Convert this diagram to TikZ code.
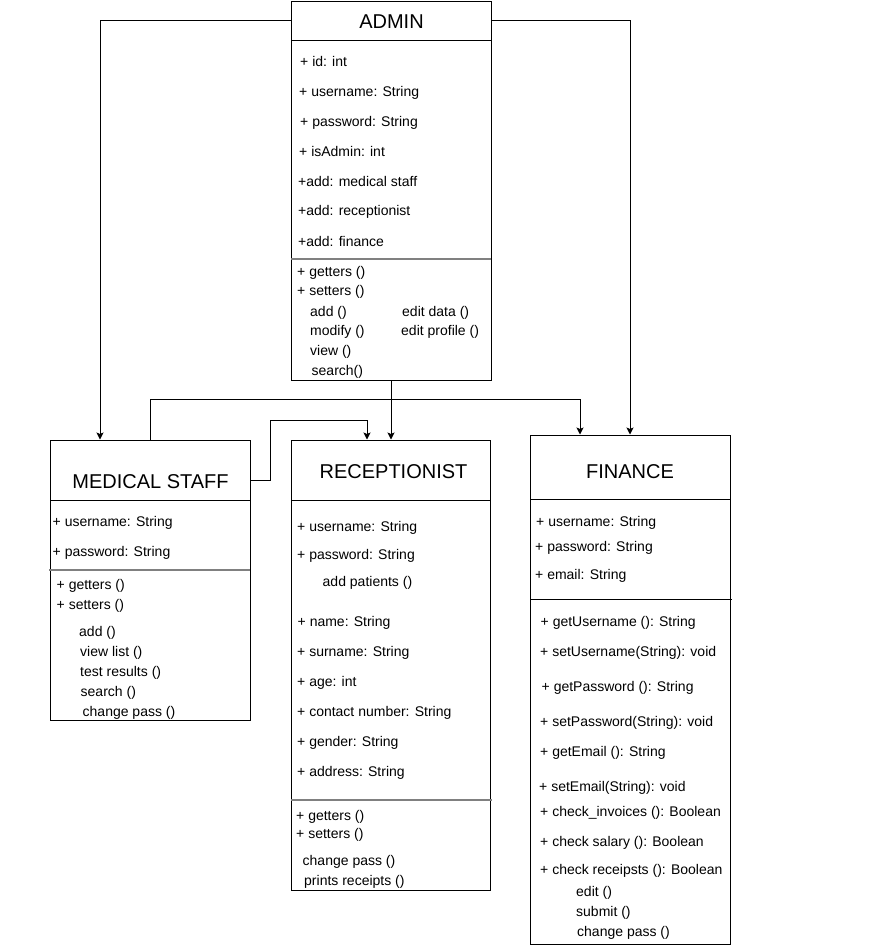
\documentclass[tikz,border=0pt]{standalone}
\usepackage{fontspec}
\setmainfont{Liberation Sans}
\usetikzlibrary{arrows.meta}
\pgfdeclarelayer{bg}
\pgfsetlayers{bg,main}

\begin{document}
\begin{tikzpicture}[x=1pt, y=-1pt,
        box/.style={draw, line width=1pt, minimum width=200pt, inner sep=0pt},
        txt/.style={anchor=base west, inner sep=0pt, font=\fontsize{14}{16}\selectfont},
        ttl/.style={anchor=base, inner sep=0pt, font=\fontsize{20}{24}\selectfont},
        sep/.style={draw=black!50, line width=2pt},
        conn/.style={line width=1pt, -{Stealth[length=7pt,width=7pt,inset=1.5pt]}}]
        \useasboundingbox (0,0) rectangle (876,946);
        % class boxes
        \node (admin) [box, minimum height=39pt] at (391,20.5) {};
        \node (adminB) [box, minimum height=340pt] at (391,210) {};
        \node (med) [box, minimum height=60pt] at (150,470) {};
        \node (medB) [box, minimum height=220pt] at (150,610) {};
        \node (rec) [box, minimum width=199pt, minimum height=60pt] at (390.5,470) {};
        \node (recB) [box, minimum width=199pt, minimum height=390pt] at (390.5,695) {};
        \node (fin) [box, minimum height=64pt] at (630,467) {};
        \node (finB) [box, minimum height=445pt] at (630,721.5) {};
        \draw [sep] (291,259) -- (491,259);
        \draw [sep] (49,570) -- (250,570);
        \draw [sep] (291,800) -- (492,800);
        \draw [line width=1pt] (530,599.5) -- (732,599.5);
        % titles
        \node (t0) [ttl] at (391.5,28) {ADMIN};
        \node (t1) [ttl] at (150.5,488) {MEDICAL STAFF};
        \node (t2) [ttl] at (393.5,478) {RECEPTIONIST};
        \node (t3) [ttl] at (630,478) {FINANCE};
        % admin
        \node (a0) [txt] at (300,66) {+ id: int};
        \node (a1) [txt] at (299,96) {+ username: String};
        \node (a2) [txt] at (300,126) {+ password: String};
        \node (a3) [txt] at (299,156) {+ isAdmin: int};
        \node (a4) [txt] at (298,186) {+add: medical staff};
        \node (a5) [txt] at (298,215) {+add: receptionist};
        \node (a6) [txt] at (298,246) {+add: finance};
        \node (a7) [txt] at (297,276) {+ getters ()};
        \node (a8) [txt] at (297,295) {+ setters ()};
        \node (a9) [txt] at (310,316) {add ()};
        \node (a10) [txt] at (310,335) {modify ()};
        \node (a11) [txt] at (310,355) {view ()};
        \node (a12) [txt] at (311.5,375) {search()};
        \node (a13) [txt] at (402,316) {edit data ()};
        \node (a14) [txt] at (401,335) {edit profile ()};
        % medical staff
        \node (m0) [txt] at (52.5,526) {+ username: String};
        \node (m1) [txt] at (52.5,556) {+ password: String};
        \node (m2) [txt] at (56.5,589) {+ getters ()};
        \node (m3) [txt] at (56.5,609) {+ setters ()};
        \node (m4) [txt] at (79,636) {add ()};
        \node (m5) [txt] at (80,656) {view list ()};
        \node (m6) [txt] at (80,676) {test results ()};
        \node (m7) [txt] at (80.5,696) {search ()};
        \node (m8) [txt] at (82.5,716) {change pass ()};
        % receptionist
        \node (r0) [txt] at (297,531) {+ username: String};
        \node (r1) [txt] at (297,559) {+ password: String};
        \node (r2) [txt] at (322.5,586.5) {add patients ()};
        \node (r3) [txt] at (297.5,626) {+ name: String};
        \node (r4) [txt] at (297,656) {+ surname: String};
        \node (r5) [txt] at (297,686) {+ age: int};
        \node (r6) [txt] at (297,716) {+ contact number: String};
        \node (r7) [txt] at (297,746.5) {+ gender: String};
        \node (r8) [txt] at (297,776) {+ address: String};
        \node (r9) [txt] at (296,820) {+ getters ()};
        \node (r10) [txt] at (296,838) {+ setters ()};
        \node (r11) [txt] at (302.5,865) {change pass ()};
        \node (r12) [txt] at (304,885) {prints receipts ()};
        % finance
        \node (f0) [txt] at (536,526) {+ username: String};
        \node (f1) [txt] at (535,551.5) {+ password: String};
        \node (f2) [txt] at (535,579) {+ email: String};
        \node (f3) [txt] at (540.5,626.5) {+ getUsername (): String};
        \node (f4) [txt] at (540,656.5) {+ setUsername(String): void};
        \node (f5) [txt] at (541.5,691.5) {+ getPassword (): String};
        \node (f6) [txt] at (540,726) {+ setPassword(String): void};
        \node (f7) [txt] at (540,756) {+ getEmail (): String};
        \node (f8) [txt] at (539,791) {+ setEmail(String): void};
        \node (f9) [txt] at (540,816) {+ check\_invoices (): Boolean};
        \node (f10) [txt] at (540,846) {+ check salary (): Boolean};
        \node (f11) [txt] at (540,874) {+ check receipsts (): Boolean};
        \node (f12) [txt] at (576,896) {edit ()};
        \node (f13) [txt] at (576,916) {submit ()};
        \node (f14) [txt] at (577,936) {change pass ()};
        \begin{pgfonlayer}{bg}
                \draw [conn] (admin.west) -| ([xshift=-50pt]med.north);
                \draw [conn] (admin.east) -| (fin.north);
                \draw [conn] (adminB.south) -- (adminB.south |- rec.north);
                \draw [conn] (med.north) -- ++(0,-40) -| ([xshift=-50pt]fin.north);
                \draw [conn] ([yshift=-10pt]med.east) -- ++(20,0) -- ++(0,-60) -| ([xshift=-23.5pt]rec.north);
        \end{pgfonlayer}
\end{tikzpicture}
\end{document}
